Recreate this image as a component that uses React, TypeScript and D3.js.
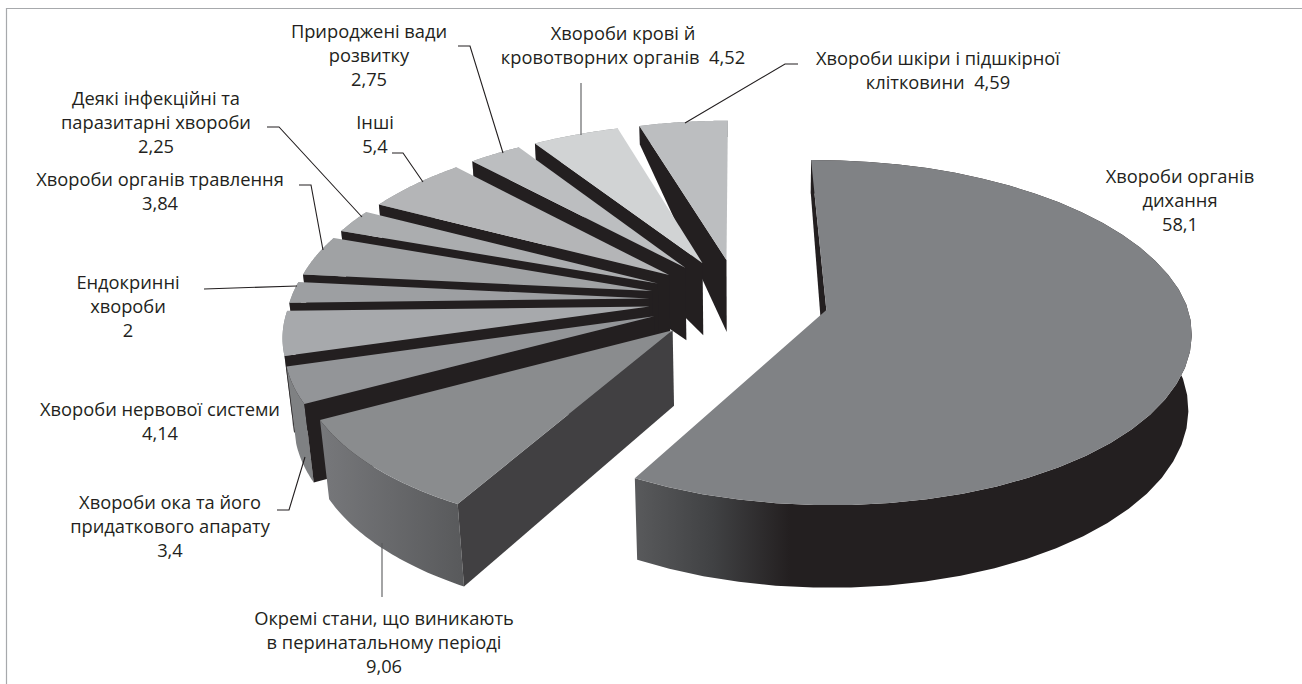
import React from "react";
import * as d3 from "d3";

const categories = [
  "Хвороби органів дихання",
  "Окремі стани, що виникають в перинатальному періоді",
  "Хвороби ока та його придаткового апарату",
  "Хвороби нервової системи",
  "Ендокринні хвороби",
  "Хвороби органів травлення",
  "Деякі інфекційні та паразитарні хвороби",
  "Інші",
  "Природжені вади розвитку",
  "Хвороби крові й кровотворних органів",
  "Хвороби шкіри і підшкірної клітковини",
];
const values = [58.1, 9.06, 3.4, 4.14, 2, 3.84, 2.25, 5.4, 2.75, 4.52, 4.59];
const labelLines = [
  ["Хвороби органів", "дихання", "58,1"],
  ["Окремі стани, що виникають", "в перинатальному періоді", "9,06"],
  ["Хвороби ока та його", "придаткового апарату", "3,4"],
  ["Хвороби нервової системи", "4,14"],
  ["Ендокринні", "хвороби", "2"],
  ["Хвороби органів травлення", "3,84"],
  ["Деякі інфекційні та", "паразитарні хвороби", "2,25"],
  ["Інші", "5,4"],
  ["Природжені вади", "розвитку", "2,75"],
  ["Хвороби крові й", "кровотворних органів  4,52"],
  ["Хвороби шкіри і підшкірної", "клітковини  4,59"],
];
const topColors = ["#808285", "#8a8c8e", "#939598", "#a7a9ac", "#9d9fa2", "#a0a2a4", "#abadaf", "#b4b5b7", "#bcbec0", "#d1d3d4", "#bcbec0"];
const rimColors = ["#231f20", "#636466", "#7f8183", "#8a8c8e", "#8f9193", "#8f9193", "#8f9193", "#8f9193", "#8f9193", "#8f9193", "#8f9193"];
const labelAnchors: [number, number][] = [
  [1180, 177], [384, 619], [170, 503], [160, 410], [128, 283], [160, 180], [156, 99], [375, 123], [369, 32], [623, 34], [938, 59],
];
const leaders: [number, number][][] = [
  [],
  [[382, 597], [382, 543]],
  [[277, 510], [289, 510], [305, 457]],
  [],
  [[204, 289], [297, 286]],
  [[299, 185], [311, 185], [323, 250]],
  [[267, 127], [279, 127], [362, 217]],
  [[392, 153], [403, 153], [423, 182]],
  [[458, 46], [470, 46], [503, 153]],
  [[581, 83], [581, 135]],
  [[798, 64], [785, 64], [685, 123]],
];

const CX = 739, CY = 300, BX = 359, AY = 167, K = 0.13, EXPLODE = 0.25, SHEAR = 8;

const depthScale = d3.scaleLinear().domain([-1.25, -0.25, 1.25]).range([16, 72, 84]);
const angleScale = d3.scaleLinear().domain([0, 2 * Math.PI]).range([(-1 * Math.PI) / 180, 2 * Math.PI]);

function project(u: number, v: number): [number, number] {
  const w = 1 / (1 - K * v);
  return [CX + BX * u * w - SHEAR * Math.max(v, 0), CY + AY * v * w];
}
function below(u: number, v: number): [number, number] {
  const [x, y] = project(u, v);
  const d = depthScale(v);
  return [x + (CX - x) * (x < CX ? 0.022 : 0.008) * (d / 80), y + d];
}

const arcs = d3.pie<number>().sort(null).value((d) => d)(values);
const line = d3.line();

function slicePaths(i: number) {
  const a0 = angleScale(arcs[i].startAngle);
  const a1 = angleScale(arcs[i].endAngle);
  const mid = (a0 + a1) / 2;
  const ou = Math.sin(mid) * EXPLODE;
  const ov = -Math.cos(mid) * EXPLODE;
  const steps = d3.range(0, 41).map((s) => a0 + ((a1 - a0) * s) / 40);
  const rim = steps.map((t) => [ou + Math.sin(t), ov - Math.cos(t)] as [number, number]);
  const apexUV: [number, number] = [ou, ov];
  const top = line([project(...apexUV), ...rim.map((p) => project(...p))])! + "Z";
  const rimWall = line([...rim.map((p) => project(...p)), ...rim.slice().reverse().map((p) => below(...p))])! + "Z";
  const startU = rim[0];
  const startWall = line([project(...apexUV), project(...startU), below(...startU), below(...apexUV)])! + "Z";
  return { top, rimWall, startWall };
}

const order = [10, 9, 8, 7, 6, 5, 4, 3, 2, 1, 0];
const FONT = "'Open Sans', 'Noto Sans', sans-serif";

export default function App() {
  return (
    <svg
      width={1302}
      height={684}
      viewBox="0 0 1302 684"
      style={{ position: "absolute", left: 0, top: 0, background: "#fff" }}
    >
      <defs>
        <linearGradient id="bigRim" gradientUnits="userSpaceOnUse" x1={638} x2={790} y1={0} y2={0}>
          <stop offset="0" stopColor="#58595b" />
          <stop offset="0.5" stopColor="#404143" />
          <stop offset="1" stopColor="#231f20" />
        </linearGradient>
        <linearGradient id="perRim" gradientUnits="userSpaceOnUse" x1={320} x2={465} y1={0} y2={0}>
          <stop offset="0" stopColor="#77787b" />
          <stop offset="1" stopColor="#58595b" />
        </linearGradient>
      </defs>
      <path d="M6.5 684V8.5H1302" fill="none" stroke="#a7a9ac" strokeWidth={1.2} />
      {order.map((i) => {
        const p = slicePaths(i);
        return (
          <g key={categories[i]}>
            <path d={p.rimWall} fill={i === 0 ? "url(#bigRim)" : i === 1 ? "url(#perRim)" : rimColors[i]} />
            <path d={p.startWall} fill={i === 1 ? "#414042" : "#231f20"} />
            <path d={p.top} fill={topColors[i]} />
          </g>
        );
      })}
      {leaders.map((l, i) =>
        l.length ? <path key={i} d={line(l)!} fill="none" stroke={i === 1 || i === 9 ? "#58595b" : "#231f20"} strokeWidth={1.1} /> : null
      )}
      <g fontFamily={FONT} fontSize={18.3} fill="#231f20" textAnchor="middle">
        {labelLines.map((lines, i) => (
          <text key={i} x={labelAnchors[i][0]} y={labelAnchors[i][1] + 6}>
            {lines.map((t, j) => (
              <tspan key={j} x={labelAnchors[i][0]} dy={j === 0 ? 0 : 23.8} style={{ whiteSpace: "pre" }}>
                {t}
              </tspan>
            ))}
          </text>
        ))}
      </g>
    </svg>
  );
}
